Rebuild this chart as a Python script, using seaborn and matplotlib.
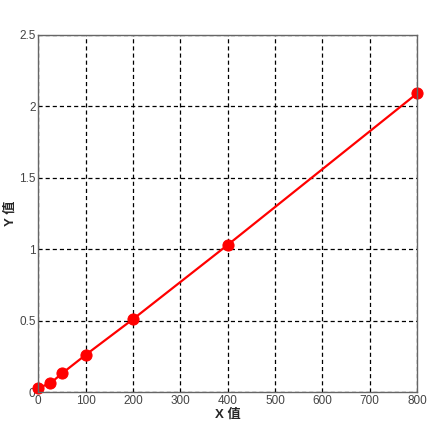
import numpy as np
import pandas as pd
import matplotlib
matplotlib.use('Agg')
import matplotlib.pyplot as plt
import seaborn as sns
from matplotlib.ticker import FuncFormatter

# ── DATA ──────────────────────────────────────────────────────────────────────
x_vals = [0, 25, 50, 100, 200, 400, 800]
y_vals = [0.03, 0.06, 0.13, 0.26, 0.51, 1.03, 2.09]
x_ticks = [0, 100, 200, 300, 400, 500, 600, 700, 800]
y_ticks = [0, 0.5, 1, 1.5, 2, 2.5]

df = pd.DataFrame({'x': x_vals, 'y': y_vals})

# ── PLOT ──────────────────────────────────────────────────────────────────────
sns.set_style('white')
plt.rcParams['font.family'] = ['Liberation Sans', 'Noto Sans CJK SC', 'DejaVu Sans']

fig, ax = plt.subplots(figsize=(4.4, 4.41), dpi=100)
sns.lineplot(data=df, x='x', y='y', ax=ax, color='#ff0000', linewidth=1.6,
             marker='o', markersize=8, markeredgecolor='#ff0000', clip_on=False)

ax.set_xlim(0, 800)
ax.set_ylim(0, 2.5)
ax.set_xticks(x_ticks)
ax.set_yticks(y_ticks)
ax.yaxis.set_major_formatter(FuncFormatter(lambda v, p: f'{v:g}'))
ax.grid(True, color='black', linestyle=(0, (3.3, 2.4)), linewidth=0.9)
ax.tick_params(labelsize=8.5, colors='#444444', length=0, pad=2)
for s in ax.spines.values():
    s.set_color('#666666')
    s.set_linewidth(1.0)

ax.set_xlabel('X 值', fontsize=9.5, fontweight='bold')
ax.set_ylabel('Y 值', fontsize=9.5, fontweight='bold')
ax.xaxis.set_label_coords(0.5, -0.047)
ax.yaxis.set_label_coords(-0.058, 0.5)

fig.subplots_adjust(left=0.087, right=0.948, top=0.921, bottom=0.111)
plt.savefig('out.png', dpi=100)
plt.close()
